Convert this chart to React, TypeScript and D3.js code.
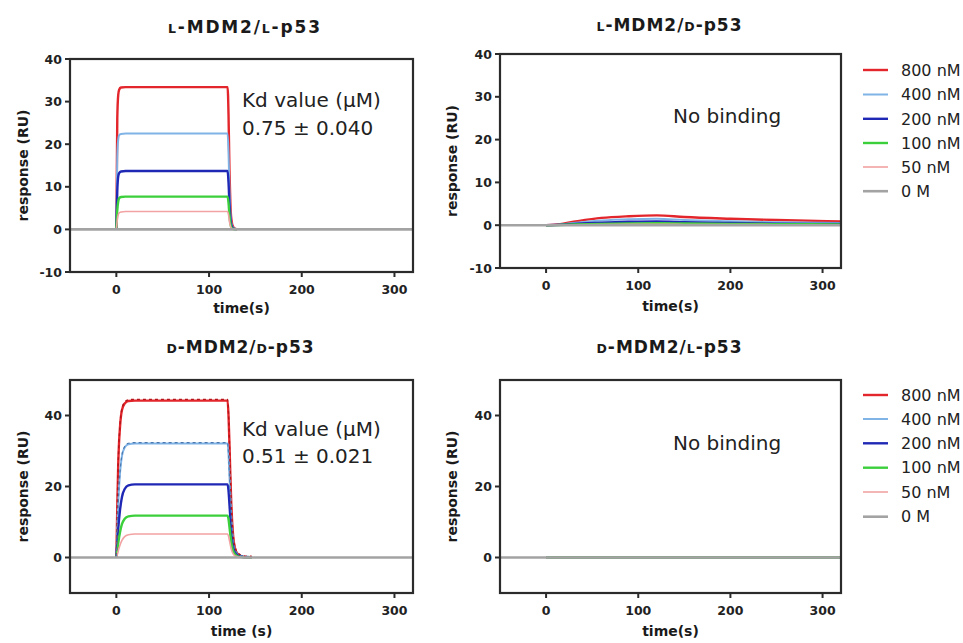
import React from "react";
import * as d3 from "d3";

// Concentration legend
const concentrations = ["800 nM", "400 nM", "200 nM", "100 nM", "50 nM", "0 M"];
const seriesColors = ["#e3262b", "#80b3e6", "#1f27b5", "#3bd03b", "#f2a2a2", "#a3a3a3"];
const seriesWidths = [2.4, 2, 2.4, 2.4, 1.6, 2.6];

const xTicks = [0, 100, 200, 300];
const xDomain = [-50, 320];

// L-MDM2 / L-p53 sensorgram
const timeLL = [0, 1, 2, 3, 5, 10, 60, 120, 121, 122, 123, 124, 126, 130];
const ll800 = [0, 26, 31.5, 32.8, 33.3, 33.4, 33.4, 33.4, 27, 14, 6, 2.5, 0.6, 0];
const ll400 = [0, 17, 21, 22.1, 22.4, 22.5, 22.5, 22.5, 18, 9.5, 4, 1.6, 0.4, 0];
const ll200 = [0, 9, 12.4, 13.2, 13.6, 13.7, 13.7, 13.7, 11, 6, 2.5, 1, 0.2, 0];
const ll100 = [0, 4.5, 6.5, 7.3, 7.6, 7.7, 7.7, 7.7, 6.2, 3.3, 1.4, 0.5, 0.1, 0];
const ll50 = [0, 2.2, 3.4, 3.9, 4.1, 4.2, 4.2, 4.2, 3.4, 1.8, 0.8, 0.3, 0.1, 0];

// L-MDM2 / D-p53 sensorgram
const timeLD = [0, 10, 30, 60, 90, 120, 150, 200, 250, 320];
const ld800 = [0, 0.1, 0.8, 1.7, 2.1, 2.3, 1.9, 1.5, 1.2, 0.9];
const ld400 = [0, 0.05, 0.5, 1.1, 1.4, 1.5, 1.2, 0.9, 0.7, 0.5];
const ld200 = [0, 0.03, 0.3, 0.6, 0.8, 0.9, 0.7, 0.5, 0.35, 0.3];
const ld100 = [0, 0.02, 0.15, 0.3, 0.4, 0.45, 0.4, 0.3, 0.25, 0.2];
const ld50 = [0, 0.01, 0.08, 0.15, 0.2, 0.2, 0.18, 0.15, 0.12, 0.1];

// D-MDM2 / D-p53 sensorgram
const timeDD = [0, 1, 2, 4, 6, 9, 13, 20, 60, 120, 121, 122, 123, 124, 126, 128, 131, 135, 140, 146];
const dd800 = [0, 14, 26, 37, 41.5, 43.4, 44.1, 44.2, 44.2, 44.2, 40, 32, 23, 15, 6, 2.6, 1, 0.3, 0.05, 0];
const dd400 = [0, 8, 15, 24, 28.5, 31, 31.9, 32.1, 32.1, 32.1, 29, 23, 17, 11, 4.5, 2, 0.8, 0.25, 0.05, 0];
const dd200 = [0, 4, 8, 13.5, 17, 19.3, 20.3, 20.6, 20.6, 20.6, 18.8, 15, 11, 7.2, 3, 1.4, 0.6, 0.2, 0.05, 0];
const dd100 = [0, 2, 4, 7.2, 9.4, 10.9, 11.6, 11.8, 11.8, 11.8, 10.8, 8.6, 6.3, 4.2, 1.8, 0.8, 0.35, 0.1, 0.03, 0];
const dd50 = [0, 0.8, 1.8, 3.5, 4.8, 5.9, 6.4, 6.6, 6.6, 6.6, 6, 4.8, 3.5, 2.3, 1, 0.45, 0.2, 0.06, 0.02, 0];

// D-MDM2 / L-p53 sensorgram
const timeDL = [0, 100, 200, 320];
const dl800 = [0, 0, 0, 0];
const dl400 = [0, 0, 0, 0];
const dl200 = [0, 0, 0, 0];
const dl100 = [0, 0, 0, 0];
const dl50 = [0, 0, 0, 0];

// Buffer-only (0 M) reference trace
const timeBuffer = [-50, 320];
const buffer0 = [0, 0];

const FONT = "'DejaVu Sans', Arial, sans-serif";
const AXIS = "#2b2b2b";

type Frame = { x0: number; x1: number; y0: number; y1: number };
type PanelProps = {
  id: string;
  frame: Frame;
  yDomain: [number, number];
  yTicks: number[];
  title: [string, string];
  titleX: number;
  titleY: number;
  titleLen: number;
  yLabelX: number;
  xLabel: string;
  xLabelY: number;
  times: number[];
  series: number[][];
  notes: { text: string; x: number; y: number }[];
  legendRows?: number[];
  fitOverlay?: boolean;
};

function Panel(p: PanelProps) {
  const { frame } = p;
  const x = d3.scaleLinear().domain(xDomain).range([frame.x0, frame.x1]);
  const y = d3.scaleLinear().domain(p.yDomain).range([frame.y1, frame.y0]);
  const line = d3
    .line<[number, number]>()
    .x((d) => x(d[0]))
    .y((d) => y(d[1]))
    .curve(d3.curveMonotoneX);
  const pts = (ts: number[], vs: number[]) => ts.map((t, i) => [t, vs[i]] as [number, number]);
  const clipId = `clip-${p.id}`;
  const midY = (frame.y0 + frame.y1) / 2;
  const midX = (x(xDomain[0]) + x(xDomain[1])) / 2;

  return (
    <g>
      <defs>
        <clipPath id={clipId}>
          <rect x={frame.x0} y={frame.y0} width={frame.x1 - frame.x0} height={frame.y1 - frame.y0} />
        </clipPath>
      </defs>

      {/* title with small-capital stereo prefixes */}
      <text
        x={p.titleX}
        y={p.titleY}
        textAnchor="middle"
        fontFamily={FONT}
        fontWeight="bold"
        fontSize={17}
        fill="#1a1a1a"
        textLength={p.titleLen}
        lengthAdjust="spacing"
      >
        <tspan fontSize={12.5}>{p.title[0]}</tspan>
        <tspan>-MDM2/</tspan>
        <tspan fontSize={12.5}>{p.title[1]}</tspan>
        <tspan>-p53</tspan>
      </text>

      {/* traces */}
      <g clipPath={`url(#${clipId})`}>
        {p.series.map((vals, i) => (
          <path
            key={i}
            d={line(pts(p.times, vals)) || ""}
            fill="none"
            stroke={seriesColors[i]}
            strokeWidth={seriesWidths[i]}
            strokeLinejoin="round"
          />
        ))}
        {p.fitOverlay && (
          <g>
            <path
              d={line(pts(p.times, p.series[0])) || ""}
              fill="none"
              stroke="#b5141a"
              strokeWidth={1.4}
              strokeDasharray="3,3"
              transform="translate(0,-1.2)"
            />
            <path
              d={line(pts(p.times, p.series[1])) || ""}
              fill="none"
              stroke="#4a78b0"
              strokeWidth={1.2}
              strokeDasharray="3,3"
              transform="translate(0,-1)"
            />
          </g>
        )}
        <path
          d={line(pts(timeBuffer, buffer0)) || ""}
          fill="none"
          stroke={seriesColors[5]}
          strokeWidth={seriesWidths[5]}
        />
      </g>

      {/* frame */}
      <rect
        x={frame.x0}
        y={frame.y0}
        width={frame.x1 - frame.x0}
        height={frame.y1 - frame.y0}
        fill="none"
        stroke={AXIS}
        strokeWidth={2.2}
      />

      {/* y axis ticks */}
      {p.yTicks.map((t) => (
        <g key={`y${t}`}>
          <line x1={frame.x0 - 5} x2={frame.x0} y1={y(t)} y2={y(t)} stroke={AXIS} strokeWidth={2} />
          <text
            x={frame.x0 - 8}
            y={y(t)}
            dy="0.36em"
            textAnchor="end"
            fontFamily={FONT}
            fontWeight="bold"
            fontSize={12.5}
            fill="#222"
          >
            {t}
          </text>
        </g>
      ))}

      {/* x axis ticks */}
      {xTicks.map((t) => (
        <g key={`x${t}`}>
          <line x1={x(t)} x2={x(t)} y1={frame.y1} y2={frame.y1 + 5} stroke={AXIS} strokeWidth={2} />
          <text
            x={x(t)}
            y={frame.y1 + 22}
            textAnchor="middle"
            fontFamily={FONT}
            fontWeight="bold"
            fontSize={12.5}
            fill="#222"
          >
            {t}
          </text>
        </g>
      ))}

      {/* axis titles */}
      <text
        transform={`translate(${p.yLabelX},${midY}) rotate(-90)`}
        dy="0.35em"
        textAnchor="middle"
        fontFamily={FONT}
        fontWeight="bold"
        fontSize={14}
        fill="#1a1a1a"
      >
        response (RU)
      </text>
      <text
        x={midX}
        y={p.xLabelY}
        textAnchor="middle"
        fontFamily={FONT}
        fontWeight="bold"
        fontSize={14}
        fill="#1a1a1a"
      >
        {p.xLabel}
      </text>

      {/* annotations */}
      {p.notes.map((n, i) => (
        <text key={i} x={n.x} y={n.y} fontFamily={FONT} fontSize={20} fill="#222">
          {n.text}
        </text>
      ))}

      {/* legend */}
      {p.legendRows &&
        p.legendRows.map((ry, i) => (
          <g key={`lg${i}`}>
            <line
              x1={863}
              x2={888}
              y1={ry}
              y2={ry}
              stroke={seriesColors[i]}
              strokeWidth={seriesWidths[i]}
            />
            <text x={901} y={ry} dy="0.36em" fontFamily={FONT} fontSize={16} fill="#222">
              {concentrations[i]}
            </text>
          </g>
        ))}
    </g>
  );
}

export default function App() {
  return (
    <svg
      width={963}
      height={643}
      style={{ position: "absolute", left: 0, top: 0, display: "block", background: "#fff" }}
    >
      <Panel
        id="ll"
        frame={{ x0: 70, x1: 413, y0: 59, y1: 272 }}
        yDomain={[-10, 40]}
        yTicks={[-10, 0, 10, 20, 30, 40]}
        title={["L", "L"]}
        titleX={244}
        titleY={33}
        titleLen={152}
        yLabelX={23}
        xLabel="time(s)"
        xLabelY={313}
        times={timeLL}
        series={[ll800, ll400, ll200, ll100, ll50]}
        notes={[
          { text: "Kd value (\u03bcM)", x: 242, y: 107 },
          { text: "0.75 \u00b1 0.040", x: 242, y: 135 },
        ]}
      />
      <Panel
        id="ld"
        frame={{ x0: 500, x1: 841, y0: 54, y1: 268 }}
        yDomain={[-10, 40]}
        yTicks={[-10, 0, 10, 20, 30, 40]}
        title={["L", "D"]}
        titleX={669}
        titleY={30.5}
        titleLen={145}
        yLabelX={452}
        xLabel="time(s)"
        xLabelY={311}
        times={timeLD}
        series={[ld800, ld400, ld200, ld100, ld50]}
        notes={[{ text: "No binding", x: 673, y: 123 }]}
        legendRows={[70, 94.5, 118.8, 143, 167, 191.2]}
      />
      <Panel
        id="dd"
        frame={{ x0: 70, x1: 413, y0: 380, y1: 593 }}
        yDomain={[-10, 50]}
        yTicks={[0, 20, 40]}
        title={["D", "D"]}
        titleX={240}
        titleY={353}
        titleLen={147}
        yLabelX={23}
        xLabel="time (s)"
        xLabelY={636}
        times={timeDD}
        series={[dd800, dd400, dd200, dd100, dd50]}
        notes={[
          { text: "Kd value (\u03bcM)", x: 242, y: 436 },
          { text: "0.51 \u00b1 0.021", x: 242, y: 463 },
        ]}
        fitOverlay
      />
      <Panel
        id="dl"
        frame={{ x0: 500, x1: 841, y0: 380, y1: 593 }}
        yDomain={[-10, 50]}
        yTicks={[0, 20, 40]}
        title={["D", "L"]}
        titleX={669}
        titleY={353}
        titleLen={145}
        yLabelX={452}
        xLabel="time(s)"
        xLabelY={636}
        times={timeDL}
        series={[dl800, dl400, dl200, dl100, dl50]}
        notes={[{ text: "No binding", x: 673, y: 450 }]}
        legendRows={[395, 419, 443.3, 467.7, 492, 516.7]}
      />
    </svg>
  );
}
